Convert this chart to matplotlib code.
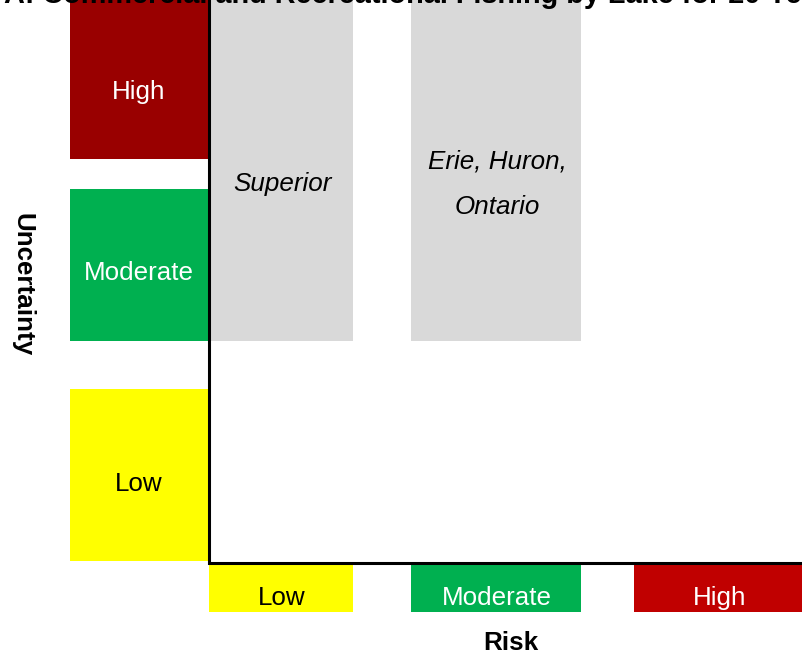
import matplotlib.pyplot as plt

plt.rcParams["font.family"] = ["Liberation Sans", "DejaVu Sans"]

title = "A: Commercial and Recreational Fishing by Lake for 20 Years"
risk_levels = ["Low", "Moderate", "High"]
uncertainty_levels = ["Low", "Moderate", "High"]
lakes = ["Superior", "Erie, Huron,\nOntario"]
lake_risk = ["Low", "Moderate"]
lake_uncertainty = [["Moderate", "High"], ["Moderate", "High"]]

# layout, in figure pixels (y grows downwards)
risk_span = {"Low": (209, 353), "Moderate": (411, 581), "High": (634, 803)}
unc_span = {"High": (0, 159), "Moderate": (189, 341), "Low": (389, 561)}
unc_text_y = {"High": 92, "Moderate": 273, "Low": 484}
risk_colors = {"Low": "#FFFF00", "Moderate": "#00B050", "High": "#C00000"}
unc_colors = {"Low": "#FFFF00", "Moderate": "#00B050", "High": "#990000"}
text_colors = {"Low": "black", "Moderate": "white", "High": "white"}
FS = 18.7

fig = plt.figure(figsize=(8.03, 6.6), dpi=100)
ax = fig.add_axes([0, 0, 1, 1])
ax.set_xlim(0, 803)
ax.set_ylim(660, 0)
ax.axis("off")

# lake boxes
for lake, r, u in zip(lakes, lake_risk, lake_uncertainty):
    x0, x1 = risk_span[r]
    y0 = min(unc_span[k][0] for k in u)
    y1 = max(unc_span[k][1] for k in u)
    ax.bar(x0, y1 - y0, width=x1 - x0, bottom=y0, align="edge", color="#D9D9D9")
    ax.text((x0 + x1) / 2 + 1, 184, lake, ha="center", va="center",
            fontsize=FS, style="italic", linespacing=2.15)

# uncertainty scale (left)
for lvl in uncertainty_levels:
    y0, y1 = unc_span[lvl]
    ax.bar(70, y1 - y0, width=138, bottom=y0, align="edge", color=unc_colors[lvl])
    ax.text(139, unc_text_y[lvl], lvl, ha="center", va="center",
            fontsize=FS, color=text_colors[lvl])

# risk scale (bottom)
for lvl in risk_levels:
    x0, x1 = risk_span[lvl]
    ax.bar(x0, 48, width=x1 - x0, bottom=564, align="edge", color=risk_colors[lvl])
    ax.text((x0 + x1) / 2 + 1, 598, lvl, ha="center", va="center",
            fontsize=FS, color=text_colors[lvl])

# axes lines
ax.plot([209.5, 209.5, 803], [0, 562.5, 562.5], color="black", lw=2.2,
        solid_joinstyle="miter")

ax.text(22, 285, "Uncertainty", rotation=-90, ha="center", va="center",
        fontsize=FS, fontweight="bold")
ax.text(511, 643, "Risk", ha="center", va="center", fontsize=FS, fontweight="bold")
ax.text(4, 3, title, ha="left", va="baseline", fontsize=20.8, fontweight="bold",
        clip_on=False)

fig.savefig("out.png", dpi=100)
